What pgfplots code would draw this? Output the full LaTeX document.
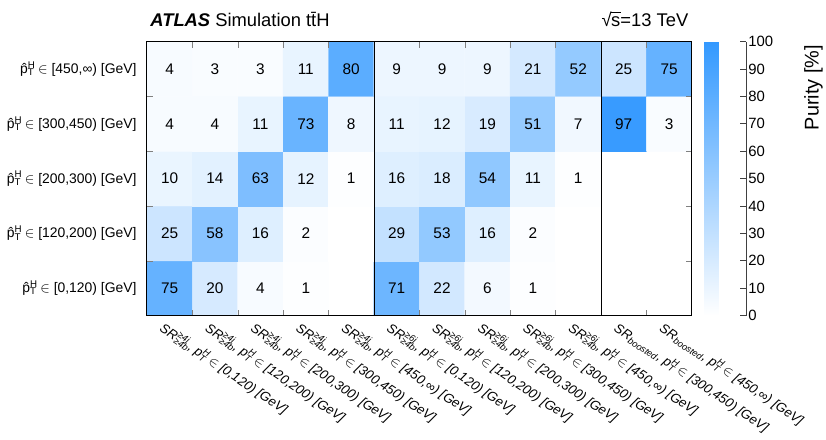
\documentclass[border=0pt]{standalone}
\usepackage{pgfplots}
\pgfplotsset{compat=1.18}
\usepackage{pgfplotstable}
\usepackage{fontspec}
\setmainfont{Liberation Sans}

\newcommand{\fs}[1]{\fontsize{#1}{#1}\selectfont}
\newcommand{\pth}{\^{p}\rlap{\textsuperscript{H}}\textsubscript{T}}
\newcommand{\ptx}{p\rlap{\textsuperscript{H}}\textsubscript{T}}
\newcommand{\srlab}[2]{SR\rlap{\textsuperscript{≥#1j}}\textsubscript{≥4b}, \ptx\ $\in$ #2 [GeV]}
\newcommand{\srb}[1]{SR\textsubscript{boosted}, \ptx\ $\in$ #1 [GeV]}

% purity in %, y=0 is the [0,120) row; 0 = empty cell
\pgfplotstableread{
x y v
0 0 75
1 0 20
2 0 4
3 0 1
4 0 0
5 0 71
6 0 22
7 0 6
8 0 1
9 0 0
10 0 0
11 0 0
0 1 25
1 1 58
2 1 16
3 1 2
4 1 0
5 1 29
6 1 53
7 1 16
8 1 2
9 1 0
10 1 0
11 1 0
0 2 10
1 2 14
2 2 63
3 2 12
4 2 1
5 2 16
6 2 18
7 2 54
8 2 11
9 2 1
10 2 0
11 2 0
0 3 4
1 3 4
2 3 11
3 3 73
4 3 8
5 3 11
6 3 12
7 3 19
8 3 51
9 3 7
10 3 97
11 3 3
0 4 4
1 4 3
2 4 3
3 4 11
4 4 80
5 4 9
6 4 9
7 4 9
8 4 21
9 4 52
10 4 25
11 4 75
}\purity

\begin{document}
\begin{tikzpicture}
\begin{axis}[
  scale only axis, width=549pt, height=276pt,
  xmin=-0.5, xmax=11.5, ymin=-0.5, ymax=4.5,
  clip=false, axis on top,
  axis line style={line width=0.8pt},
  colormap={purity}{rgb255=(255,255,255) rgb255=(51,153,255)},
  point meta min=0, point meta max=100,
  /pgf/number format/assume math mode=true,
  xtick={0,...,11},
  xticklabels={{\srlab{4}{[0,120)}},{\srlab{4}{[120,200)}},{\srlab{4}{[200,300)}},
    {\srlab{4}{[300,450)}},{\srlab{4}{[450,∞)}},
    {\srlab{6}{[0,120)}},{\srlab{6}{[120,200)}},{\srlab{6}{[200,300)}},
    {\srlab{6}{[300,450)}},{\srlab{6}{[450,∞)}},
    {\srb{[300,450)}},{\srb{[450,∞)}}},
  ytick={0,...,4},
  yticklabels={{\pth\ $\in$ [0,120) [GeV]},{\pth\ $\in$ [120,200) [GeV]},
    {\pth\ $\in$ [200,300) [GeV]},{\pth\ $\in$ [300,450) [GeV]},{\pth\ $\in$ [450,∞) [GeV]}},
  minor xtick={0.5,1.5,...,10.5},
  minor ytick={0.5,1.5,...,3.5},
  major tick length=0pt, minor tick length=6pt,
  tick align=inside, xtick pos=both, ytick pos=both,
  xticklabel style={font=\fs{13.3}\itshape, rotate=-34, anchor=north west, xshift=-4pt, yshift=-3pt},
  yticklabel style={font=\fs{14}, xshift=-7pt},
  extra x ticks={4.5,9.5}, extra x tick labels={},
  extra x tick style={grid=major, major grid style={black, line width=0.8pt}},
  colorbar,
  colorbar style={
    at={(parent axis.north east)}, anchor=north west, xshift=4pt,
    width=42pt, axis on top,
    axis line style={draw=none},
    ytick={0,10,...,100},
    yticklabels={0,10,20,30,40,50,60,70,80,90,100},
    minor ytick={}, extra x ticks={}, extra y ticks={},
    major tick length=6pt, ytick align=inside, ytick pos=right, yticklabel pos=right,
    major tick style={black!75, line width=0.8pt},
    yticklabel style={font=\fs{15}, rotate=0, anchor=west, xshift=-1pt},
    every axis y label/.style={at={(axis description cs:2.62,1)}, rotate=90, anchor=east, font=\fs{20}},
    ylabel={Purity [\%]},
    extra description/.code={\draw[black!75, line width=0.8pt] (rel axis cs:1,0) -- (rel axis cs:1,1);},
  },
]
\addplot[matrix plot*, mesh/cols=12, point meta=\thisrow{v}] table[x=x, y=y] {\purity};
\addplot[draw=none, mark=none, point meta=\thisrow{v},
  unbounded coords=discard,
  y filter/.expression={\thisrow{v}==0 ? nan : y},
  nodes near coords={\pgfmathprintnumber{\pgfplotspointmeta}},
  every node near coord/.append style={anchor=center, font=\fs{15.5}, text=black}]
  table[x=x, y=y] {\purity};
\node[anchor=base west, font=\fs{18.5}] at (rel axis cs:0,1) [yshift=15pt]
  {\textbf{\textit{ATLAS}} Simulation t\={t}H};
\node[anchor=base east, font=\fs{18.5}] at (rel axis cs:1,1) [yshift=15pt]
  {√\kern-0.5pt\rlap{\rule[0.73em]{0.52em}{0.06em}}s=13 TeV};
% page frame with the reference's margins round the axis
\path ([xshift=-148pt,yshift=-123pt]rel axis cs:0,0) rectangle ([xshift=129pt,yshift=42pt]rel axis cs:1,1);
\end{axis}
\end{tikzpicture}
\end{document}
